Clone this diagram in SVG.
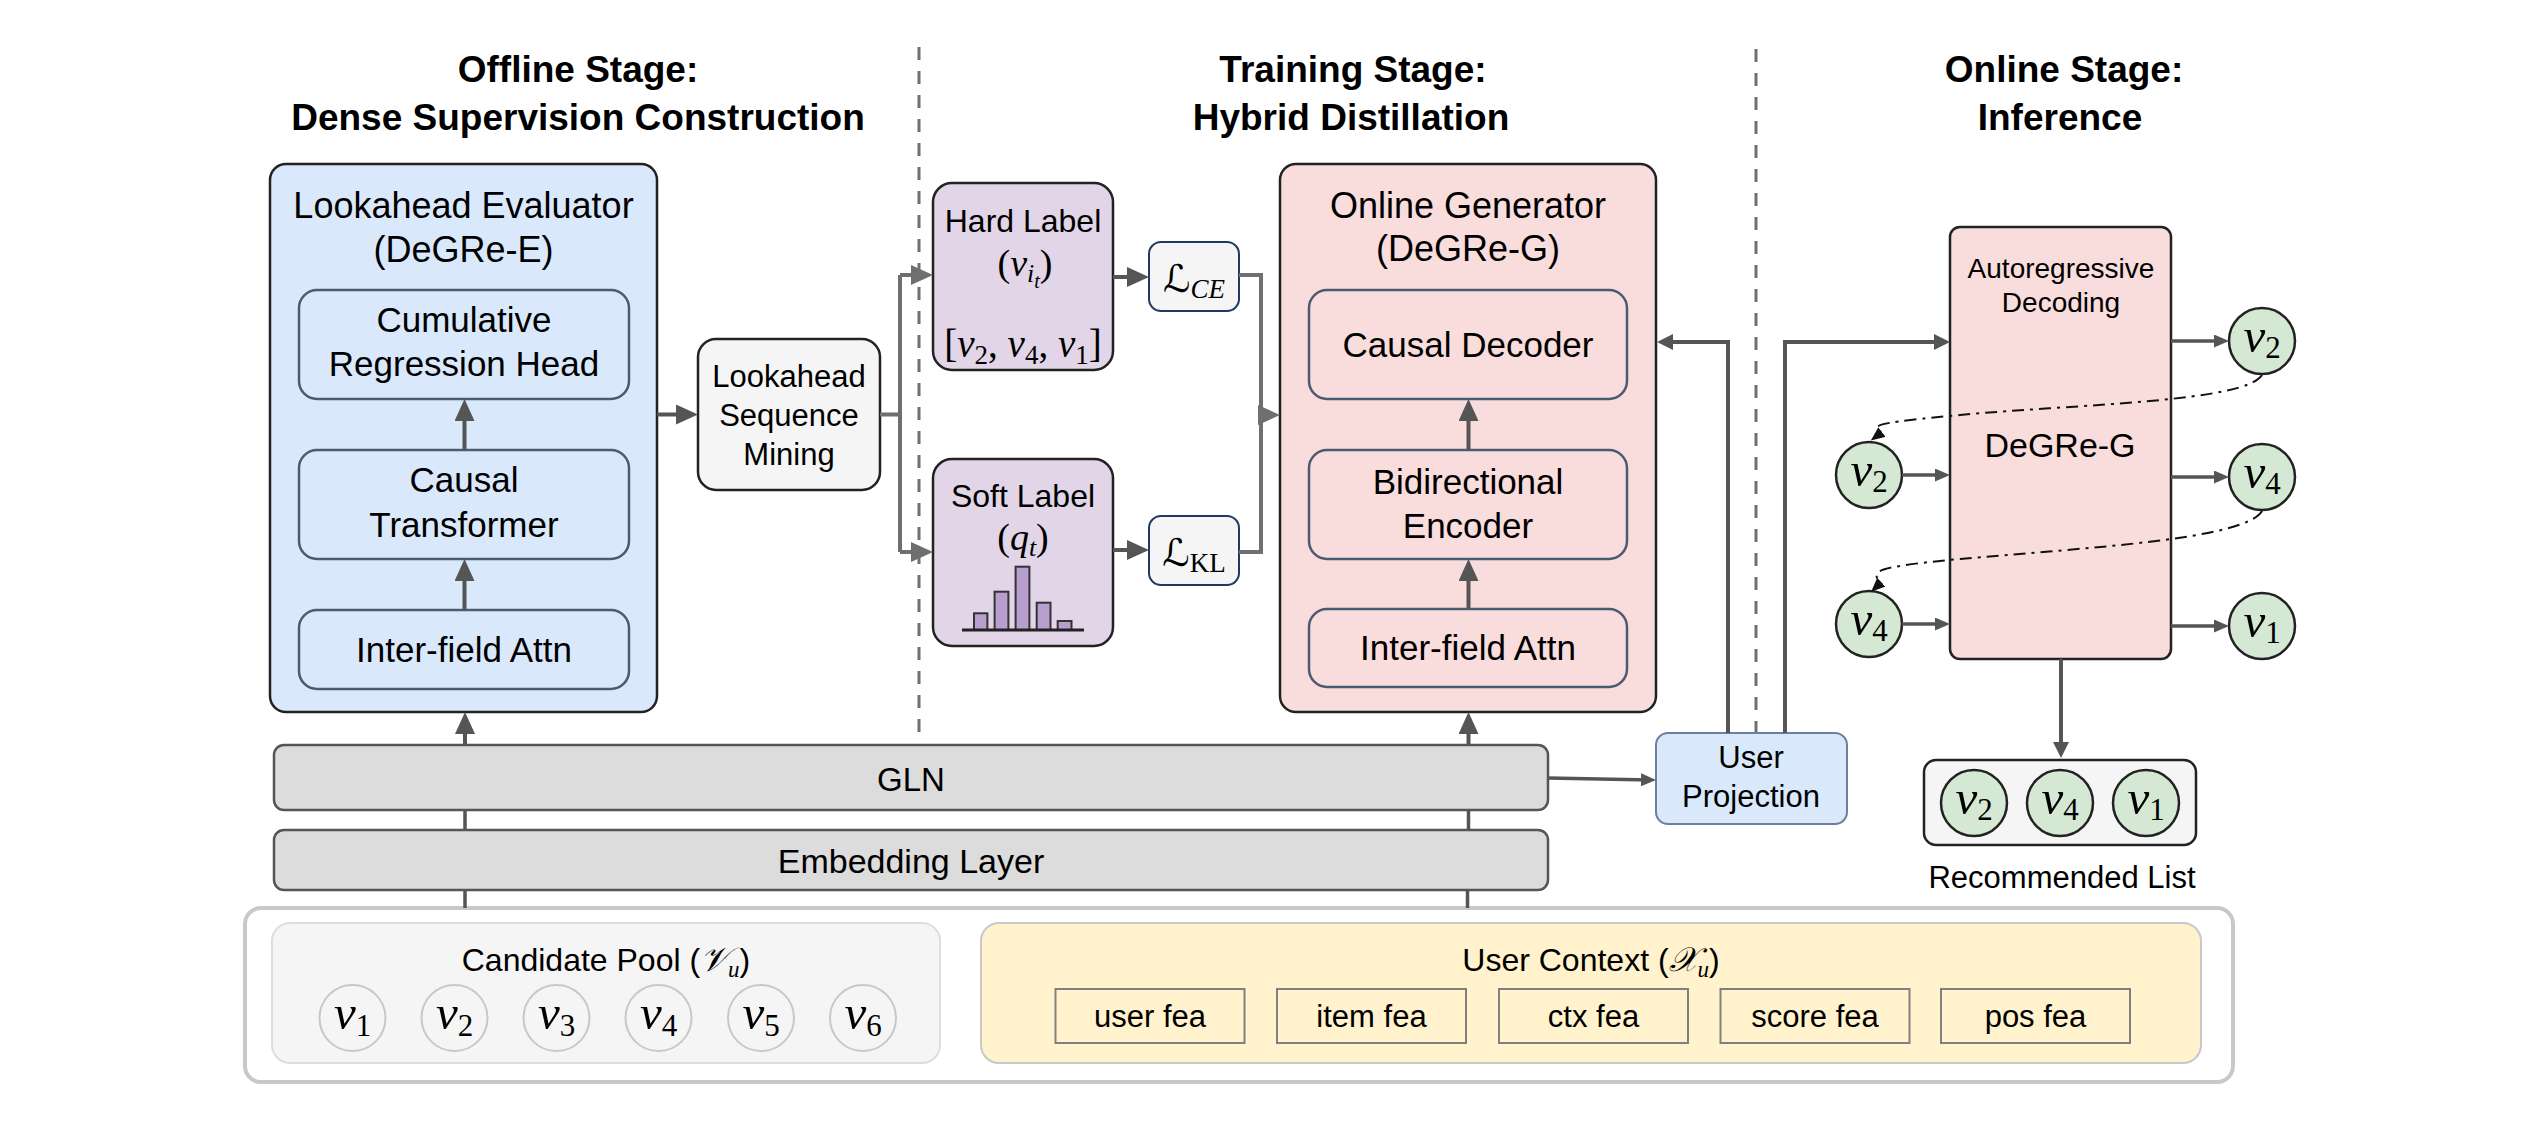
<svg xmlns="http://www.w3.org/2000/svg" width="2535" height="1130" viewBox="0 0 2535 1130">
<defs>
<style>
.t{font-family:"Liberation Sans",Arial,sans-serif;fill:#000;text-anchor:middle}
.h{font-weight:bold;font-size:37px}
.m{font-family:"Liberation Serif","Times New Roman",serif;fill:#000;text-anchor:middle}
.i{font-style:italic}
.sc{font-family:"DejaVu Serif","DejaVu Sans",serif}
.box{stroke:#222;stroke-width:2.5}
.inB{fill:#dae8fc;stroke:#4d5b70;stroke-width:2.5}
.inP{fill:#f9dcdc;stroke:#4d5b70;stroke-width:2.5}
.gc{fill:#d5e8d4;stroke:#222;stroke-width:2.5}
.pc{fill:#f5f5f5;stroke:#c8c8c8;stroke-width:2}
.fea{fill:#fff2cc;stroke:#808080;stroke-width:2}
.vv{font-size:49px}
.vs{font-size:31px}
.c{fill:none;stroke:#555;stroke-width:4}
.cs{fill:none;stroke:#555;stroke-width:3.5}
.cf{fill:none;stroke:#6f6f6f;stroke-width:4}
.dd{fill:none;stroke:#111;stroke-width:2;stroke-dasharray:12 6 3 6}
.sep{stroke:#707070;stroke-width:3;stroke-dasharray:13 11}
</style>
<marker id="mA" markerUnits="userSpaceOnUse" markerWidth="22" markerHeight="20" viewBox="0 0 22 20" refX="16" refY="10" orient="auto"><path d="M0,0 L22,10 L0,20 z" fill="#555"/></marker>
<marker id="mF" markerUnits="userSpaceOnUse" markerWidth="22" markerHeight="20" viewBox="0 0 22 20" refX="16" refY="10" orient="auto"><path d="M0,0 L22,10 L0,20 z" fill="#6f6f6f"/></marker>
<marker id="mM" markerUnits="userSpaceOnUse" markerWidth="16" markerHeight="16" viewBox="0 0 16 16" refX="11" refY="8" orient="auto"><path d="M0,0 L16,8 L0,16 z" fill="#555"/></marker>
<marker id="mS" markerUnits="userSpaceOnUse" markerWidth="15" markerHeight="13" viewBox="0 0 15 13" refX="10" refY="6.5" orient="auto"><path d="M0,0 L15,6.5 L0,13 z" fill="#555"/></marker>
<marker id="mD" markerUnits="userSpaceOnUse" markerWidth="14" markerHeight="12" viewBox="0 0 14 12" refX="10" refY="6" orient="auto"><path d="M0,0 L14,6 L0,12 z" fill="#111"/></marker>
</defs>
<rect width="2535" height="1130" fill="#fff"/>

<g id="titles">
<text class="t h" x="578" y="82">Offline Stage:</text>
<text class="t h" x="578" y="130">Dense Supervision Construction</text>
<text class="t h" x="1353" y="82">Training Stage:</text>
<text class="t h" x="1351" y="130">Hybrid Distillation</text>
<text class="t h" x="2064" y="82">Online Stage:</text>
<text class="t h" x="2060" y="130">Inference</text>
</g>

<g id="separators">
<line class="sep" x1="919" y1="47" x2="919" y2="732"/>
<line class="sep" x1="1756" y1="49" x2="1756" y2="733"/>
</g>

<g id="context-container">
<rect x="245" y="908" width="1988" height="174" rx="16" fill="#fff" stroke="#c8c8c8" stroke-width="4"/>
</g>

<g id="candidate-pool">
<rect x="272" y="923" width="668" height="140" rx="18" fill="#f5f5f5" stroke="#dddddd" stroke-width="2"/>
<text class="t" x="606" y="971" font-size="32">Candidate Pool (<tspan class="m i" font-size="34">𝒱</tspan><tspan class="m i" font-size="23" dy="6">u</tspan><tspan dy="-6">)</tspan></text>
<circle class="pc" cx="352.5" cy="1018" r="33"/>
<circle class="pc" cx="454.5" cy="1018" r="33"/>
<circle class="pc" cx="556.5" cy="1018" r="33"/>
<circle class="pc" cx="658.5" cy="1018" r="33"/>
<circle class="pc" cx="761" cy="1018" r="33"/>
<circle class="pc" cx="863" cy="1018" r="33"/>
<text class="m" x="352.5" y="1029"><tspan class="i vv">v</tspan><tspan class="vs" dy="7">1</tspan></text>
<text class="m" x="454.5" y="1029"><tspan class="i vv">v</tspan><tspan class="vs" dy="7">2</tspan></text>
<text class="m" x="556.5" y="1029"><tspan class="i vv">v</tspan><tspan class="vs" dy="7">3</tspan></text>
<text class="m" x="658.5" y="1029"><tspan class="i vv">v</tspan><tspan class="vs" dy="7">4</tspan></text>
<text class="m" x="761" y="1029"><tspan class="i vv">v</tspan><tspan class="vs" dy="7">5</tspan></text>
<text class="m" x="863" y="1029"><tspan class="i vv">v</tspan><tspan class="vs" dy="7">6</tspan></text>
</g>

<g id="user-context">
<rect x="981" y="923" width="1220" height="140" rx="18" fill="#fff2cc" stroke="#c8c8c8" stroke-width="2"/>
<text class="t" x="1591" y="971" font-size="32">User Context (<tspan class="m i" font-size="34">𝒳</tspan><tspan class="m i" font-size="23" dy="6">u</tspan><tspan dy="-6">)</tspan></text>
<rect class="fea" x="1055.5" y="989" width="189" height="54"/>
<rect class="fea" x="1277" y="989" width="189" height="54"/>
<rect class="fea" x="1499" y="989" width="189" height="54"/>
<rect class="fea" x="1720.5" y="989" width="189" height="54"/>
<rect class="fea" x="1941" y="989" width="189" height="54"/>
<text class="t" x="1150" y="1027" font-size="31">user fea</text>
<text class="t" x="1371.5" y="1027" font-size="31">item fea</text>
<text class="t" x="1593.5" y="1027" font-size="31">ctx fea</text>
<text class="t" x="1815" y="1027" font-size="31">score fea</text>
<text class="t" x="2035.5" y="1027" font-size="31">pos fea</text>
</g>

<g id="embedding-layer">
<rect x="274" y="830" width="1274" height="60" rx="10" fill="#dcdcdc" stroke="#555" stroke-width="2.5"/>
<text class="t" x="911" y="873" font-size="34">Embedding Layer</text>
</g>

<g id="gln">
<rect x="274" y="745" width="1274" height="65" rx="10" fill="#dcdcdc" stroke="#555" stroke-width="2.5"/>
<text class="t" x="911" y="791" font-size="33">GLN</text>
</g>

<g id="lookahead-evaluator">
<rect class="box" x="270" y="164" width="387" height="548" rx="16" fill="#dae8fc"/>
<text class="t" x="463.5" y="218" font-size="36">Lookahead Evaluator</text>
<text class="t" x="463.5" y="262" font-size="36">(DeGRe-E)</text>
<rect class="inB" x="299" y="290" width="330" height="109" rx="18"/>
<text class="t" x="464" y="332" font-size="35">Cumulative</text>
<text class="t" x="464" y="376" font-size="35">Regression Head</text>
<rect class="inB" x="299" y="450" width="330" height="109" rx="18"/>
<text class="t" x="464" y="492" font-size="35">Causal</text>
<text class="t" x="464" y="537" font-size="35">Transformer</text>
<rect class="inB" x="299" y="610" width="330" height="79" rx="18"/>
<text class="t" x="464" y="662" font-size="35">Inter-field Attn</text>
</g>

<g id="lookahead-sequence-mining">
<rect class="box" x="698" y="339" width="182" height="151" rx="18" fill="#f5f5f5"/>
<text class="t" x="789" y="387" font-size="31">Lookahead</text>
<text class="t" x="789" y="426" font-size="31">Sequence</text>
<text class="t" x="789" y="465" font-size="31">Mining</text>
</g>

<g id="hard-label">
<rect class="box" x="933" y="183" width="180" height="187" rx="19" fill="#e1d5e7"/>
<text class="t" x="1023" y="232" font-size="32">Hard Label</text>
<text class="m" x="1025" y="276" font-size="38">(<tspan class="i">v</tspan><tspan class="i" font-size="26" dy="6">i</tspan><tspan class="i" font-size="20" dy="6">t</tspan><tspan dy="-12">)</tspan></text>
<text class="m" x="1023" y="357" font-size="39">[<tspan class="i">v</tspan><tspan font-size="27" dy="7">2</tspan><tspan dy="-7">, </tspan><tspan class="i">v</tspan><tspan font-size="27" dy="7">4</tspan><tspan dy="-7">, </tspan><tspan class="i">v</tspan><tspan font-size="27" dy="7">1</tspan><tspan dy="-7">]</tspan></text>
</g>

<g id="soft-label">
<rect class="box" x="933" y="459" width="180" height="187" rx="19" fill="#e1d5e7"/>
<text class="t" x="1023" y="507" font-size="32">Soft Label</text>
<text class="m" x="1023" y="550" font-size="38">(<tspan class="i">q</tspan><tspan class="i" font-size="26" dy="6">t</tspan><tspan dy="-6">)</tspan></text>
<g fill="#b89fcf" stroke="#333" stroke-width="2">
<rect x="974" y="613.3" width="13.4" height="16.7"/>
<rect x="994.6" y="591.7" width="13.8" height="38.3"/>
<rect x="1015.6" y="566.7" width="13.8" height="63.3"/>
<rect x="1036.7" y="602.7" width="13.8" height="27.3"/>
<rect x="1057.7" y="621" width="13.8" height="9"/>
</g>
<line x1="962" y1="630" x2="1084" y2="630" stroke="#222" stroke-width="3"/>
</g>

<g id="loss-ce">
<rect x="1149" y="242" width="90" height="69" rx="12" fill="#f5f5f5" stroke="#1f3a60" stroke-width="2"/>
<text class="m" x="1194" y="292" font-size="38"><tspan class="sc">ℒ</tspan><tspan class="i" font-size="27" dy="6">CE</tspan></text>
</g>

<g id="loss-kl">
<rect x="1149" y="516" width="90" height="69" rx="12" fill="#f5f5f5" stroke="#1f3a60" stroke-width="2"/>
<text class="m" x="1194" y="566" font-size="38"><tspan class="sc">ℒ</tspan><tspan font-size="27" dy="6">KL</tspan></text>
</g>

<g id="online-generator">
<rect class="box" x="1280" y="164" width="376" height="548" rx="16" fill="#f9dcdc"/>
<text class="t" x="1468" y="218" font-size="36">Online Generator</text>
<text class="t" x="1468" y="261" font-size="36">(DeGRe-G)</text>
<rect class="inP" x="1309" y="290" width="318" height="109" rx="18"/>
<text class="t" x="1468" y="357" font-size="35">Causal Decoder</text>
<rect class="inP" x="1309" y="450" width="318" height="109" rx="18"/>
<text class="t" x="1468" y="494" font-size="35">Bidirectional</text>
<text class="t" x="1468" y="538" font-size="35">Encoder</text>
<rect class="inP" x="1309" y="609" width="318" height="78" rx="18"/>
<text class="t" x="1468" y="660" font-size="35">Inter-field Attn</text>
</g>

<g id="user-projection">
<rect x="1656" y="733" width="191" height="91" rx="12" fill="#dae8fc" stroke="#6c7f9c" stroke-width="2"/>
<text class="t" x="1751" y="768" font-size="31">User</text>
<text class="t" x="1751" y="807" font-size="31">Projection</text>
</g>

<g id="autoregressive-decoding">
<rect class="box" x="1950" y="227" width="221" height="432" rx="10" fill="#f9dcdc"/>
<text class="t" x="2061" y="278" font-size="28">Autoregressive</text>
<text class="t" x="2061" y="312" font-size="28">Decoding</text>
<text class="t" x="2060" y="457" font-size="34">DeGRe-G</text>
</g>

<g id="input-v2">
<circle class="gc" cx="1869" cy="475" r="33"/>
<text class="m" x="1869" y="486"><tspan class="i vv">v</tspan><tspan class="vs" dy="6">2</tspan></text>
</g>
<g id="input-v4">
<circle class="gc" cx="1869" cy="624" r="33"/>
<text class="m" x="1869" y="635"><tspan class="i vv">v</tspan><tspan class="vs" dy="6">4</tspan></text>
</g>
<g id="output-v2">
<circle class="gc" cx="2262" cy="341" r="33"/>
<text class="m" x="2262" y="352"><tspan class="i vv">v</tspan><tspan class="vs" dy="6">2</tspan></text>
</g>
<g id="output-v4">
<circle class="gc" cx="2262" cy="477" r="33"/>
<text class="m" x="2262" y="488"><tspan class="i vv">v</tspan><tspan class="vs" dy="6">4</tspan></text>
</g>
<g id="output-v1">
<circle class="gc" cx="2262" cy="626" r="33"/>
<text class="m" x="2262" y="637"><tspan class="i vv">v</tspan><tspan class="vs" dy="6">1</tspan></text>
</g>

<g id="recommended-list">
<rect class="box" x="1924" y="760" width="272" height="85" rx="12" fill="#f5f5f5"/>
<circle class="gc" cx="1974" cy="803" r="33"/>
<circle class="gc" cx="2060" cy="803" r="33"/>
<circle class="gc" cx="2146" cy="803" r="33"/>
<text class="m" x="1974" y="814"><tspan class="i vv">v</tspan><tspan class="vs" dy="6">2</tspan></text>
<text class="m" x="2060" y="814"><tspan class="i vv">v</tspan><tspan class="vs" dy="6">4</tspan></text>
<text class="m" x="2146" y="814"><tspan class="i vv">v</tspan><tspan class="vs" dy="6">1</tspan></text>
<text class="t" x="2062" y="888" font-size="31">Recommended List</text>
</g>

<g id="connectors">
<path class="c" d="M657,414.5 H692" marker-end="url(#mA)"/>
<path class="c" d="M464.5,450 V405" marker-end="url(#mA)"/>
<path class="c" d="M464.5,610 V565" marker-end="url(#mA)"/>
<path class="c" d="M1468.5,450 V405" marker-end="url(#mA)"/>
<path class="c" d="M1468.5,609 V565" marker-end="url(#mA)"/>
<path class="c" d="M465,745 V718" marker-end="url(#mA)"/>
<path class="c" d="M1468.5,745 V718" marker-end="url(#mA)"/>
<path class="cs" d="M465,810 V830 M1468.5,810 V830 M465,890 V908 M1467.5,890 V908"/>
<path class="cf" d="M880,414.5 H900 M900,275 V552"/>
<path class="cf" d="M900,275 H927" marker-end="url(#mF)"/>
<path class="cf" d="M900,552 H927" marker-end="url(#mF)"/>
<path class="c" d="M1113,277 H1143" marker-end="url(#mA)"/>
<path class="c" d="M1113,550 H1143" marker-end="url(#mA)"/>
<path class="cf" d="M1239,275 H1261 V552 H1239"/>
<path class="cf" d="M1261,415 H1274" marker-end="url(#mF)"/>
<path class="cs" d="M1548,778 L1651,780" marker-end="url(#mS)"/>
<path class="c" d="M1728,733 V342 H1662" marker-end="url(#mM)"/>
<path class="c" d="M1785,733 V342 H1945" marker-end="url(#mM)"/>
<path class="cs" d="M1902,475 H1945" marker-end="url(#mS)"/>
<path class="cs" d="M1902,624 H1945" marker-end="url(#mS)"/>
<path class="cs" d="M2171,341 H2224" marker-end="url(#mS)"/>
<path class="cs" d="M2171,477 H2224" marker-end="url(#mS)"/>
<path class="cs" d="M2171,626 H2224" marker-end="url(#mS)"/>
<path class="dd" d="M2262,375 C2245,402 2080,404 1960,415 S1890,426 1874,438" marker-end="url(#mD)"/>
<path class="dd" d="M2262,511 C2245,540 2080,548 1960,559 S1890,574 1874,589" marker-end="url(#mD)"/>
<path class="c" d="M2061,659 V753" marker-end="url(#mM)"/>
</g>
</svg>
